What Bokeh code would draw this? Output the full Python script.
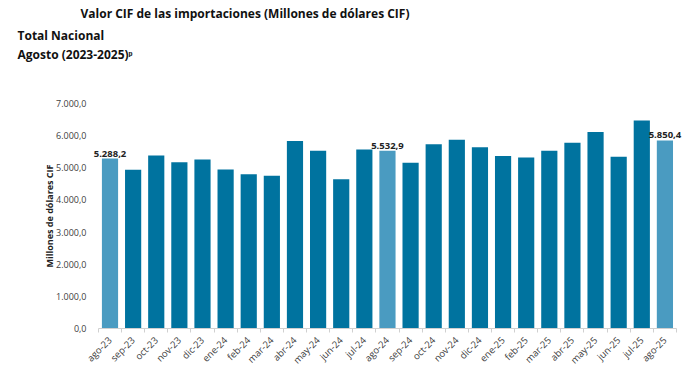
from math import pi
from bokeh.plotting import figure
from bokeh.models import (ColumnDataSource, Range1d, FixedTicker, CustomJSTickFormatter, Title, Label)
from bokeh.embed import file_html
from bokeh.resources import INLINE

months = ["ago-23", "sep-23", "oct-23", "nov-23", "dic-23", "ene-24", "feb-24", "mar-24",
          "abr-24", "may-24", "jun-24", "jul-24", "ago-24", "sep-24", "oct-24", "nov-24",
          "dic-24", "ene-25", "feb-25", "mar-25", "abr-25", "may-25", "jun-25", "jul-25", "ago-25"]
values = [5288.2, 4940, 5380, 5170, 5260, 4950, 4800, 4750,
          5830, 5530, 4640, 5570, 5532.9, 5160, 5730, 5870,
          5640, 5370, 5320, 5530, 5780, 6110, 5340, 6470, 5850.4]
highlight = [m.startswith("ago") for m in months]
y_ticks = [0, 1000, 2000, 3000, 4000, 5000, 6000, 7000]

DARK = "#00739f"
LIGHT = "#4a9bc1"
FONT = "Open Sans"

def fmt(v):
    s = f"{v:,.1f}"
    return s.replace(",", "X").replace(".", ",").replace("X", ".")

n = len(months)
xpos = [i + 0.5 for i in range(n)]
colors = [LIGHT if h else DARK for h in highlight]
src = ColumnDataSource(dict(x=xpos, v=values, c=colors))

# frame is a little wider than the bar area so that the value labels are not clipped
p = figure(width=700, height=374, output_backend="svg", toolbar_location=None,
           x_range=Range1d(-0.43, n + 0.52), y_range=Range1d(0, 7000),
           min_border_left=88, min_border_right=12, min_border_bottom=46, min_border_top=0)
p.outline_line_color = None
p.xgrid.visible = False
p.ygrid.visible = False
p.background_fill_color = "white"
p.border_fill_color = "white"

p.vbar(x="x", top="v", width=0.7, fill_color="c", line_color=None, source=src)
for x, v, h in zip(xpos, values, highlight):
    if h:
        p.add_layout(Label(x=x, y=v, text=fmt(v), text_align="center", text_baseline="bottom",
                           y_offset=2, text_font=FONT, text_font_style="bold",
                           text_font_size="9.5px", text_color="#222222"))

# x axis
p.xaxis.bounds = (0, n)
p.xaxis.ticker = FixedTicker(ticks=xpos, minor_ticks=list(range(n + 1)))
p.xaxis.major_label_overrides = {x: m for x, m in zip(xpos, months)}
p.xaxis.major_label_orientation = pi / 4
p.xaxis.major_tick_line_color = None
p.xaxis.minor_tick_line_color = "#d0d0d0"
p.xaxis.minor_tick_out = 4
p.xaxis.minor_tick_in = 0
p.xaxis.axis_line_color = "#d0d0d0"
p.xaxis.major_label_text_font = FONT
p.xaxis.major_label_text_font_size = "9.5px"
p.xaxis.major_label_text_color = "#404040"
p.xaxis.major_label_standoff = 4

# y axis
p.yaxis.ticker = FixedTicker(ticks=y_ticks, minor_ticks=[])
p.yaxis.formatter = CustomJSTickFormatter(code="""
    return tick.toFixed(1).replace('.', ',').replace(/\\B(?=(\\d{3})+(?!\\d))/g, '.');
""")
p.yaxis.axis_line_color = None
p.yaxis.major_tick_line_color = None
p.yaxis.minor_tick_line_color = None
p.yaxis.major_label_text_font = FONT
p.yaxis.major_label_text_font_size = "9px"
p.yaxis.major_label_text_color = "#404040"
p.yaxis.major_label_standoff = -4
p.yaxis.axis_label = "Millones de dólares CIF"
p.yaxis.axis_label_text_font = FONT
p.yaxis.axis_label_text_font_style = "bold"
p.yaxis.axis_label_text_font_size = "9px"
p.yaxis.axis_label_text_color = "#222222"
p.yaxis.axis_label_standoff = -3

spacer = Title(text=" ", align="left", text_font_size="1px", standoff=38)
t3 = Title(text="Agosto (2023-2025)ᵖ", align="left", offset=-71, text_font=FONT,
           text_font_size="12px", text_font_style="bold", text_color="#111111", standoff=0)
t2 = Title(text="Total Nacional", align="left", offset=-71, text_font=FONT,
           text_font_size="12px", text_font_style="bold", text_color="#111111", standoff=0)
t1 = Title(text="Valor CIF de las importaciones (Millones de dólares CIF)", align="left",
           offset=-8, text_font=FONT, text_font_size="12px", text_font_style="bold",
           text_color="#111111", standoff=5)
p.add_layout(spacer, "above")
p.add_layout(t3, "above")
p.add_layout(t2, "above")
p.add_layout(t1, "above")

open("out.html", "w").write(file_html(p, INLINE))
